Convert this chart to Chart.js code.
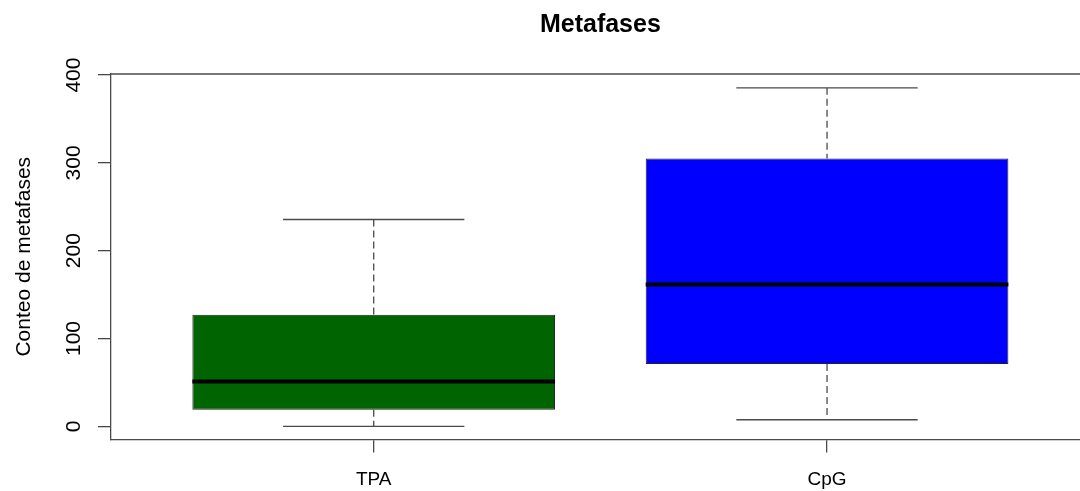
<!DOCTYPE html>
<html>
<head>
<meta charset="utf-8">
<script src="https://cdn.jsdelivr.net/npm/chart.js@4"></script>
<style>
  html, body { margin: 0; padding: 0; background: #fff; overflow: hidden; }
  #wrap { width: 1080px; height: 491px; position: relative; }
</style>
</head>
<body>
<div id="wrap"><canvas id="boxChart"></canvas></div>
<script>
// boxplot statistics
const categories = ["TPA", "CpG"];
const whiskerLow = [0, 7.5];
const q1 = [19, 71];
const median = [51, 161.5];
const q3 = [127, 305];
const whiskerHigh = [235.5, 385.5];
const boxColors = ["#006400", "#0000ff"];
const yTicks = [0, 100, 200, 300, 400];

const chartTitle = "Metafases";
const yTitle = "Conteo de metafases";
const fontFamily = "'Liberation Sans', Arial, sans-serif";
const lineGray = "#4a4a4a";

// whiskers, caps, medians, top frame and main title
const boxplotExtras = {
    id: "boxplotExtras",
    afterDatasetsDraw(chart) {
        const ctx = chart.ctx;
        const xs = chart.scales.x;
        const ys = chart.scales.y;
        const meta = chart.getDatasetMeta(0);
        ctx.save();
        for (let i = 0; i < categories.length; i++) {
            const cx = xs.getPixelForValue(i + 1);
            const half = meta.data[i].width / 2;
            const capHalf = half * 0.5;

            // dashed whiskers
            ctx.strokeStyle = lineGray;
            ctx.lineWidth = 1.3;
            ctx.setLineDash([7, 4]);
            ctx.beginPath();
            ctx.moveTo(cx, ys.getPixelForValue(whiskerHigh[i]));
            ctx.lineTo(cx, ys.getPixelForValue(q3[i]));
            ctx.moveTo(cx, ys.getPixelForValue(q1[i]));
            ctx.lineTo(cx, ys.getPixelForValue(whiskerLow[i]));
            ctx.stroke();

            // caps
            ctx.setLineDash([]);
            ctx.beginPath();
            ctx.moveTo(cx - capHalf, ys.getPixelForValue(whiskerHigh[i]));
            ctx.lineTo(cx + capHalf, ys.getPixelForValue(whiskerHigh[i]));
            ctx.moveTo(cx - capHalf, ys.getPixelForValue(whiskerLow[i]));
            ctx.lineTo(cx + capHalf, ys.getPixelForValue(whiskerLow[i]));
            ctx.stroke();

            // median
            ctx.strokeStyle = "#000";
            ctx.lineWidth = 4;
            ctx.beginPath();
            ctx.moveTo(cx - half, ys.getPixelForValue(median[i]));
            ctx.lineTo(cx + half, ys.getPixelForValue(median[i]));
            ctx.stroke();
        }

        // top of the frame
        const area = chart.chartArea;
        ctx.strokeStyle = lineGray;
        ctx.lineWidth = 1.3;
        ctx.beginPath();
        ctx.moveTo(area.left, area.top);
        ctx.lineTo(area.right, area.top);
        ctx.stroke();

        // title centred on the plot region
        ctx.fillStyle = "#000";
        ctx.font = "bold 25px " + fontFamily;
        ctx.textAlign = "center";
        ctx.textBaseline = "alphabetic";
        ctx.fillText(chartTitle, xs.getPixelForValue(1.5), 31.5);
        ctx.restore();
    }
};

const boxData = categories.map((c, i) => ({ x: i + 1, y: [q1[i], q3[i]] }));

new Chart(document.getElementById("boxChart"), {
    type: "bar",
    data: {
        datasets: [{
            label: "box",
            data: boxData,
            backgroundColor: boxColors,
            borderColor: "#222",
            borderWidth: 1,
            borderSkipped: false,
            barPercentage: 1,
            categoryPercentage: 0.8,
        }],
    },
    options: {
        responsive: true,
        maintainAspectRatio: false,
        animation: false,
        layout: { padding: { top: 74, left: 0, right: 0, bottom: 0 } },
        plugins: {
            legend: { display: false },
            tooltip: { enabled: false },
        },
        scales: {
            x: {
                type: "linear",
                offset: false,
                min: 0.4205,
                max: 2.558,
                afterBuildTicks: (scale) => {
                    scale.ticks = categories.map((c, i) => ({ value: i + 1 }));
                },
                afterFit: (scale) => { scale.height = 51.5; },
                ticks: {
                    callback: (v) => categories[v - 1] || "",
                    color: "#000",
                    font: { family: fontFamily, size: 19 },
                    padding: 16,
                    maxRotation: 0,
                    autoSkip: false,
                },
                grid: { offset: false, drawOnChartArea: false, drawTicks: true, tickLength: 13, color: lineGray, lineWidth: 1.3 },
                border: { display: true, color: lineGray, width: 1.3 },
            },
            y: {
                type: "linear",
                min: -15,
                max: 401.2,
                afterBuildTicks: (scale) => {
                    scale.ticks = yTicks.map((v) => ({ value: v }));
                },
                afterFit: (scale) => { scale.width = 111; },
                ticks: {
                    color: "#000",
                    font: { family: fontFamily, size: 21 },
                    minRotation: 90,
                    maxRotation: 90,
                    crossAlign: "center",
                    padding: 6,
                },
                grid: { drawOnChartArea: false, drawTicks: true, tickLength: 13, color: lineGray, lineWidth: 1.3 },
                border: { display: true, color: lineGray, width: 1.3 },
                title: {
                    display: true,
                    text: yTitle,
                    color: "#000",
                    font: { family: fontFamily, size: 21 },
                    padding: { top: 12, bottom: 0 },
                },
            },
        },
    },
    plugins: [boxplotExtras],
});
</script>
</body>
</html>
